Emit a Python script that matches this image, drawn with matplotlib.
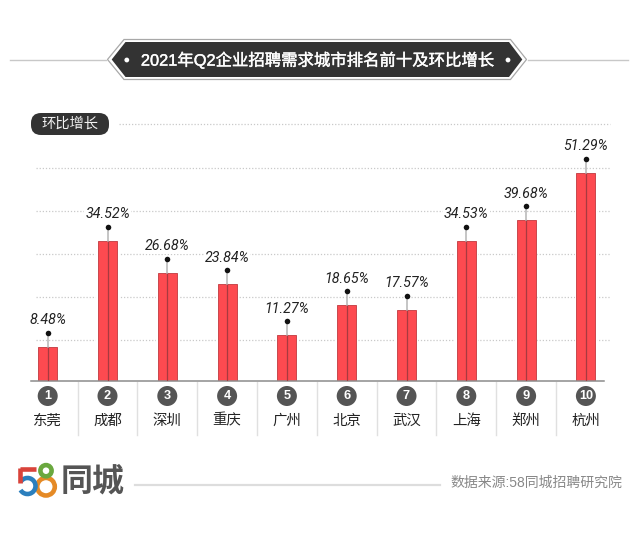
"""2021 Q2 top-ten hiring cities with quarter-on-quarter growth."""

import matplotlib

matplotlib.use("Agg")

import matplotlib.patheffects as pe
import matplotlib.pyplot as plt
from matplotlib.patches import Arc, Circle, FancyBboxPatch, Polygon


CITIES = ["东莞", "成都", "深圳", "重庆", "广州", "北京", "武汉", "上海", "郑州", "杭州"]
RANKS = [1, 2, 3, 4, 5, 6, 7, 8, 9, 10]
GROWTH = [8.48, 34.52, 26.68, 23.84, 11.27, 18.65, 17.57, 34.53, 39.68, 51.29]

TITLE = "2021年Q2企业招聘需求城市排名前十及环比增长"
LEGEND = "环比增长"
SOURCE = "数据来源:58同城招聘研究院"
LOGO_TEXT = "同城"

FONTS = ["Liberation Sans", "Noto Sans CJK SC", "DejaVu Sans"]
W, H = 640, 536
RED = "#fd4a50"
DARK = "#333333"
# pixel layout of the plot area
LEFT, RIGHT = 31.0, 604.0
BASE_Y, TOP_Y = 381.0, 121.0
PX_PER_UNIT = 4.056
FIRST_X, STEP_X = 47.7, 59.8
STEM_PX = 14.0
GRID_Y = [124, 167.5, 210.7, 254, 297, 340]

plt.rcParams["font.family"] = FONTS


def draw_deco(deco):
    # title ribbon and its side rules
    deco.plot([10, 106], [59.5, 59.5], color="#c8c8c8", lw=1.0)
    deco.plot([528, 628], [59.5, 59.5], color="#c8c8c8", lw=1.0)
    outer = [(107.5, 59.5), (124, 39.5), (510.5, 39.5), (526.5, 59.5), (510.5, 79.5), (124, 79.5)]
    inner = [(111.7, 59.5), (125.5, 42), (509, 42), (522.3, 59.5), (509, 77), (125.5, 77)]
    deco.add_patch(Polygon(outer, closed=True, fc="white", ec="#a8a8a8", lw=0.9))
    deco.add_patch(Polygon(inner, closed=True, fc=DARK, ec="none"))
    deco.add_patch(Circle((126.8, 60), 2.4, fc="white", ec="none"))
    deco.add_patch(Circle((508, 60), 2.4, fc="white", ec="none"))
    title = deco.text(317.5, 60, TITLE, color="white", fontsize=11.8, ha="center", va="center")
    title.set_path_effects([pe.withStroke(linewidth=0.3, foreground="white")])

    # dotted guide lines
    for i, y in enumerate(GRID_Y):
        x0 = 119 if i == 0 else 36
        deco.plot([x0, 610], [y, y], color="#c9c9c9", lw=0.9, ls=(0, (1, 1.5)))

    # legend pill
    deco.add_patch(FancyBboxPatch((31, 113), 78, 22, boxstyle="round,pad=0,rounding_size=10", fc=DARK, ec="none"))
    deco.text(70, 124, LEGEND, color="#f2f2f2", fontsize=10.3, ha="center", va="center")

    # rank badges, city names, separators
    for i, (rank, city) in enumerate(zip(RANKS, CITIES)):
        cx = FIRST_X + i * STEP_X
        deco.add_patch(Circle((cx, 396), 10, fc="#555555", ec="none"))
        deco.text(cx, 396, str(rank), color="white", fontsize=9.2, fontweight="bold", ha="center", va="center")
        deco.text(cx, 420.5, city, color="#222222", fontsize=10.4, ha="center", va="center")
        if i < len(CITIES) - 1:
            sep = cx + STEP_X / 2
            deco.plot([sep, sep], [382, 435], color="#e0e0e0", lw=1.0)

    # footer
    draw_logo(deco)
    deco.plot([135, 440], [485, 485], color="#dddddd", lw=1.6)
    deco.text(622, 483, SOURCE, color="#888888", fontsize=10, ha="right", va="center")


def draw_logo(deco):
    lw = 3.3
    deco.add_patch(Circle((46, 486.7), 8.8, fc="none", ec="#e58a26", lw=lw))
    deco.add_patch(Circle((46, 470.7), 5.6, fc="none", ec="#6aa83f", lw=lw))
    deco.add_patch(Arc((27.5, 486), 16, 16, theta1=-150, theta2=150, color="#2b7fbd", lw=lw))
    deco.plot([19.5, 36], [469, 469], color="#d9433a", lw=lw, solid_capstyle="butt")
    deco.plot([19.5, 19.5], [467.5, 483], color="#d9433a", lw=lw, solid_capstyle="butt")
    deco.text(93, 482.5, LOGO_TEXT, color="#555555", fontsize=23, fontweight="bold", ha="center", va="center")


def main():
    fig = plt.figure(figsize=(W / 100, H / 100), dpi=100, facecolor="white")

    deco = fig.add_axes([0, 0, 1, 1], zorder=0)
    deco.set_xlim(0, W)
    deco.set_ylim(H, 0)
    deco.axis("off")
    draw_deco(deco)

    ax = fig.add_axes([LEFT / W, (H - BASE_Y) / H, (RIGHT - LEFT) / W, (BASE_Y - TOP_Y) / H], zorder=1)
    ax.patch.set_alpha(0)
    ax.set_xlim((LEFT - FIRST_X) / STEP_X, (RIGHT - FIRST_X) / STEP_X)
    ax.set_ylim(0, (BASE_Y - TOP_Y) / PX_PER_UNIT)
    for name in ("top", "left", "right"):
        ax.spines[name].set_visible(False)
    ax.spines["bottom"].set_color("#8c8c8c")
    ax.spines["bottom"].set_linewidth(1.1)
    ax.set_xticks([])
    ax.set_yticks([])

    positions = list(range(len(GROWTH)))
    bar_w = 19 / STEP_X
    ax.bar(positions, GROWTH, width=bar_w + 0.06, color="white", edgecolor="none", zorder=1)
    ax.bar(positions, GROWTH, width=bar_w, color=RED, edgecolor="#c9484d", linewidth=0.7, zorder=2)

    px_pt = 72 / fig.dpi
    for x, v in zip(positions, GROWTH):
        ax.plot([x, x], [0, v], color="#a83a40", lw=0.9, zorder=3)
        ax.plot([x, x], [v, v + STEM_PX / PX_PER_UNIT], color="#b5b5b5", lw=1.1, zorder=3)
        ax.plot([x], [v + STEM_PX / PX_PER_UNIT], marker="o", ms=4.0, color="#111111", mec="none", zorder=4)
        ax.annotate(f"{v:.2f}%", (x, v), xytext=(0, (STEM_PX + 12.5) * px_pt), textcoords="offset points",
                    ha="center", va="center", fontsize=10.3, style="italic", color="#222222", zorder=5,
                    family=["Roboto", "Liberation Sans"],
                    bbox=dict(fc="white", ec="none", pad=0.6))

    fig.savefig("out.png", dpi=100, facecolor="white")
    plt.close(fig)


if __name__ == "__main__":
    main()
